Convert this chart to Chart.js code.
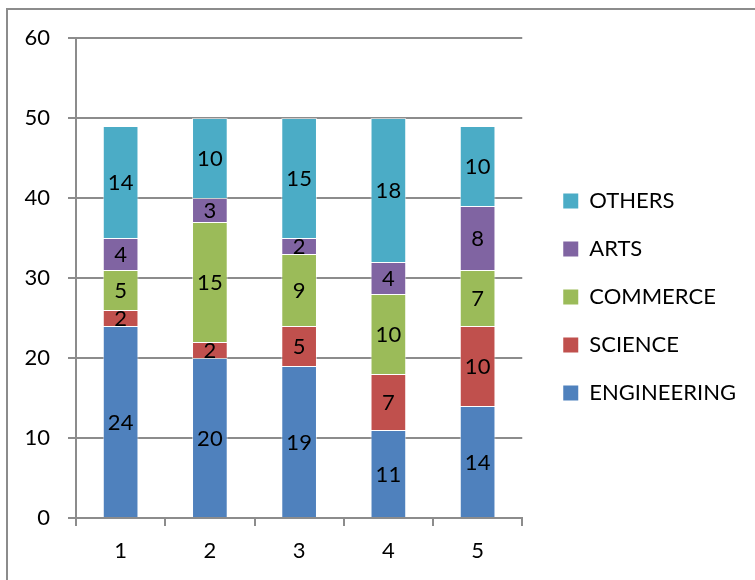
<!DOCTYPE html>
<html>
<head>
<meta charset="utf-8">
<script src="https://cdn.jsdelivr.net/npm/chart.js@4"></script>
<style>
  html, body { margin: 0; padding: 0; background: #fff; }
  #wrap { position: relative; width: 755px; height: 580px; overflow: hidden; }
  #frame { position: absolute; left: 6px; top: 8px; width: 760px; height: 600px;
           border-top: 2px solid #8c8c8c; border-left: 2px solid #8c8c8c; }
  canvas { position: absolute; left: 0; top: 0; }
</style>
</head>
<body>
<div id="wrap">
  <div id="frame"></div>
  <canvas id="c" width="755" height="580"></canvas>
</div>
<script>
const categories = ['1', '2', '3', '4', '5'];
const engineering = [24, 20, 19, 11, 14];
const science     = [2, 2, 5, 7, 10];
const commerce    = [5, 15, 9, 10, 7];
const arts        = [4, 3, 2, 4, 8];
const others      = [14, 10, 15, 18, 10];
const yTicks = [0, 10, 20, 30, 40, 50, 60];

const FONT = 'Lato, "Liberation Sans", sans-serif';

const valueLabels = {
  id: 'valueLabels',
  afterDatasetsDraw(chart) {
    const ctx = chart.ctx;
    ctx.save();
    ctx.font = '22px ' + FONT;
    ctx.fillStyle = '#000';
    ctx.textAlign = 'center';
    ctx.textBaseline = 'middle';
    chart.data.datasets.forEach((ds, i) => {
      const meta = chart.getDatasetMeta(i);
      meta.data.forEach((el, j) => {
        const v = ds.data[j];
        ctx.fillText(String(v), el.x, (el.y + el.base) / 2 + 1);
      });
    });
    ctx.restore();
  }
};

function ds(label, data, color) {
  return {
    label, data, backgroundColor: color,
    borderColor: 'rgba(255,255,255,0.55)', borderWidth: 1,
    barPercentage: 0.4, categoryPercentage: 1.0
  };
}

new Chart(document.getElementById('c'), {
  type: 'bar',
  data: {
    labels: categories,
    datasets: [
      ds('ENGINEERING', engineering, '#4F81BD'),
      ds('SCIENCE', science, '#C0504D'),
      ds('COMMERCE', commerce, '#9BBB59'),
      ds('ARTS', arts, '#8064A2'),
      ds('OTHERS', others, '#4BACC6')
    ]
  },
  options: {
    responsive: false,
    animation: false,
    layout: { padding: { left: 0, top: 38, right: 9, bottom: 0 } },
    plugins: {
      tooltip: { enabled: false },
      legend: {
        position: 'right',
        align: 'start',
        reverse: true,
        maxWidth: 230,
        title: { display: true, text: ' ', font: { size: 1, lineHeight: 1 }, padding: { top: 125, bottom: 0 } },
        labels: {
          boxWidth: 15,
          boxHeight: 15,
          padding: 26,
          color: '#000',
          font: { family: FONT, size: 22 },
          generateLabels(chart) {
            return Chart.defaults.plugins.legend.labels.generateLabels(chart)
              .map(l => Object.assign(l, { lineWidth: 0, strokeStyle: 'rgba(0,0,0,0)' }));
          }
        }
      }
    },
    scales: {
      x: {
        stacked: true,
        grid: { display: true, drawOnChartArea: false, drawTicks: true, tickLength: 8,
                color: '#8c8c8c', lineWidth: 2, offset: true },
        border: { display: true, color: '#8c8c8c', width: 2 },
        ticks: { color: '#000', font: { family: FONT, size: 22 }, padding: 12 },
        afterFit(s) { s.height = 62; }
      },
      y: {
        stacked: true,
        min: 0, max: 60,
        afterBuildTicks(s) { s.ticks = yTicks.map(v => ({ value: v })); },
        grid: { color: '#8c8c8c', lineWidth: 2, tickLength: 8 },
        border: { display: true, color: '#8c8c8c', width: 2 },
        ticks: { color: '#000', font: { family: FONT, size: 22 }, padding: 18 },
        afterFit(s) { s.width = 76; }
      },
      gap: {
        position: 'right',
        display: true,
        grid: { display: false },
        border: { display: false },
        ticks: { display: false },
        afterFit(s) { s.width = 15; }
      }
    }
  },
  plugins: [valueLabels]
});
</script>
</body>
</html>
